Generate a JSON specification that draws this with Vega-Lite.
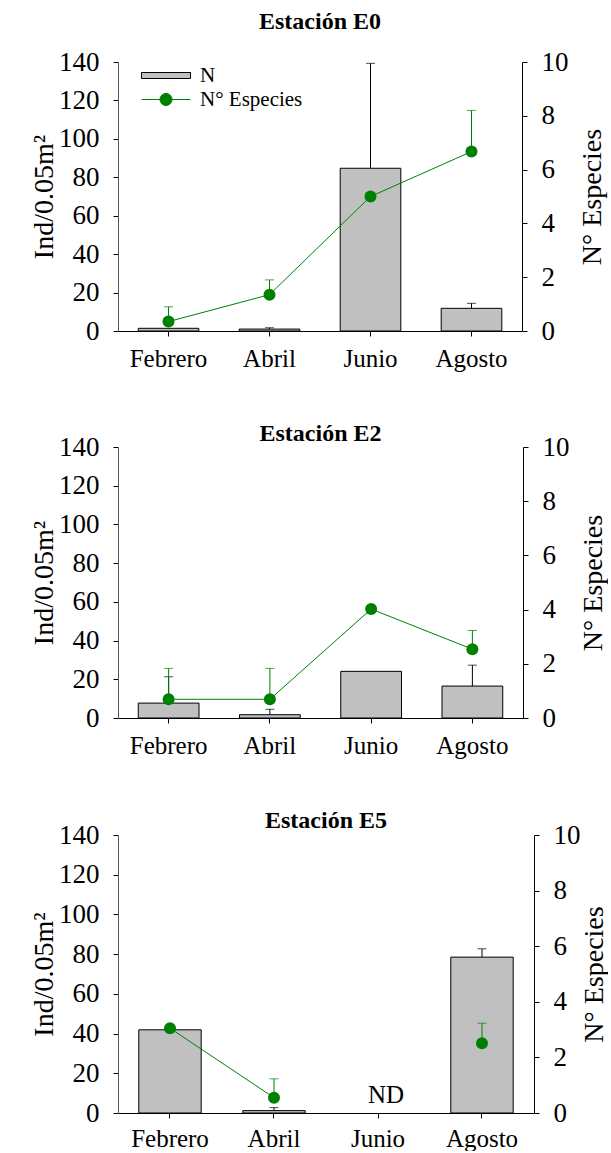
{
  "$schema": "https://vega.github.io/schema/vega-lite/v6.json",
  "background": "white",
  "padding": {"left": 30, "right": 0, "top": 10, "bottom": 0},
  "config": {
    "view": {"stroke": null},
    "font": "Liberation Serif",
    "axis": {"labelFont": "Liberation Serif", "labelFontSize": 27, "labelColor": "black", "labelOverlap": false, "titleFont": "Liberation Serif", "titleFontSize": 28, "titleFontWeight": "normal", "titleColor": "black", "domainColor": "black", "tickColor": "black", "tickSize": 5, "grid": false, "labelPadding": 12},
    "title": {"font": "Liberation Serif", "fontSize": 24, "fontWeight": "bold", "color": "black", "anchor": "middle", "frame": "group"},
    "legend": {"title": null, "orient": "none", "padding": 0, "symbolSize": 144, "symbolOpacity": 1, "labelFont": "Liberation Serif", "labelFontSize": 21, "labelColor": "black", "labelOffset": 23.5, "symbolStrokeWidth": 1}
  },
  "datasets": {
    "e0": [
      {"mes": "Febrero", "N": 1.4, "N_up": null, "S": 0.35, "S_up": 0.9, "nota": null},
      {"mes": "Abril", "N": 1.0, "N_up": 1.7, "S": 1.35, "S_up": 1.9, "nota": null},
      {"mes": "Junio", "N": 84.7, "N_up": 139.3, "S": 5.0, "S_up": null, "nota": null},
      {"mes": "Agosto", "N": 11.8, "N_up": 14.4, "S": 6.67, "S_up": 8.2, "nota": null}
    ],
    "e2": [
      {"mes": "Febrero", "N": 7.7, "N_up": 21.3, "S": 0.69, "S_up": 1.83, "nota": null},
      {"mes": "Abril", "N": 1.7, "N_up": 4.5, "S": 0.69, "S_up": 1.83, "nota": null},
      {"mes": "Junio", "N": 24.1, "N_up": null, "S": 4.02, "S_up": null, "nota": null},
      {"mes": "Agosto", "N": 16.5, "N_up": 27.3, "S": 2.54, "S_up": 3.23, "nota": null}
    ],
    "e5": [
      {"mes": "Febrero", "N": 41.9, "N_up": null, "S": 3.05, "S_up": null, "nota": null},
      {"mes": "Abril", "N": 1.2, "N_up": 2.7, "S": 0.55, "S_up": 1.23, "nota": null},
      {"mes": "Junio", "N": null, "N_up": null, "S": null, "S_up": null, "nota": "ND"},
      {"mes": "Agosto", "N": 78.5, "N_up": 82.7, "S": 2.51, "S_up": 3.23, "nota": null}
    ]
  },
  "spacing": 51,
  "vconcat": [
    {
      "title": {"text": "Estación E0", "offset": 14},
      "width": 404, "height": 269,
      "data": {"name": "e0"},
      "encoding": {"x": {"field": "mes", "type": "nominal", "sort": ["Febrero", "Abril", "Junio", "Agosto"], "scale": {"paddingInner": 0.4, "paddingOuter": 0.2}, "axis": {"title": null, "labelAngle": 0, "labelPadding": 10, "labelFontSize": 25}}},
      "layer": [
        {
          "layer": [
            {"mark": {"type": "bar", "stroke": "black", "strokeWidth": 1},
             "encoding": {
               "y": {"field": "N", "type": "quantitative", "scale": {"domain": [0, 140], "nice": false}, "axis": {"title": "Ind/0.05m²", "values": [0, 20, 40, 60, 80, 100, 120, 140], "labelOverlap": false, "labelPadding": 14, "titlePadding": 0, "domainColor": "#555"}},
               "fill": {"datum": "N", "type": "nominal", "scale": {"domain": ["N"], "range": ["#c0c0c0"]},
                 "legend": {"legendX": 37.5, "legendY": 3, "symbolType": "M-4.08,-0.5L4.08,-0.5L4.08,0.5L-4.08,0.5Z", "symbolStrokeColor": "black"}}
             }},
            {"transform": [{"filter": "datum.N_up != null"}],
             "mark": {"type": "rule", "color": "black", "strokeWidth": 1},
             "encoding": {"y": {"field": "N", "type": "quantitative", "axis": {"title": "Ind/0.05m²", "values": [0, 20, 40, 60, 80, 100, 120, 140], "labelOverlap": false, "labelPadding": 14, "titlePadding": 0, "domainColor": "#555"}}, "y2": {"field": "N_up"}}},
            {"transform": [{"filter": "datum.N_up != null"}],
             "mark": {"type": "tick", "color": "black", "size": 9, "thickness": 1, "orient": "horizontal"},
             "encoding": {"y": {"field": "N_up", "type": "quantitative", "axis": {"title": "Ind/0.05m²", "values": [0, 20, 40, 60, 80, 100, 120, 140], "labelOverlap": false, "labelPadding": 14, "titlePadding": 0, "domainColor": "#555"}}}}
          ]
        },
        {
          "layer": [
            {"mark": {"type": "line", "color": "#008000", "strokeWidth": 1},
             "encoding": {"y": {"field": "S", "type": "quantitative", "scale": {"domain": [0, 10], "nice": false}, "axis": {"orient": "right", "title": "N° Especies", "titleAngle": 270, "titleBaseline": "top", "values": [0, 2, 4, 6, 8, 10], "labelOverlap": false, "labelPadding": 14, "titlePadding": 10}}}},
            {"transform": [{"filter": "datum.S_up != null"}],
             "mark": {"type": "rule", "color": "#008000", "strokeWidth": 1},
             "encoding": {"y": {"field": "S", "type": "quantitative"}, "y2": {"field": "S_up"}}},
            {"transform": [{"filter": "datum.S_up != null"}],
             "mark": {"type": "tick", "color": "#008000", "size": 9, "thickness": 1, "orient": "horizontal"},
             "encoding": {"y": {"field": "S_up", "type": "quantitative"}}},
            {"mark": {"type": "circle", "size": 144, "opacity": 1},
             "encoding": {"y": {"field": "S", "type": "quantitative"},
               "fill": {"datum": "N° Especies", "type": "nominal", "scale": {"domain": ["N° Especies"], "range": ["#008000"]},
                 "legend": {"legendX": 37.5, "legendY": 27, "symbolType": "M-4.08,0L4.08,0M-1,0A1,1 0 1,1 1,0A1,1 0 1,1 -1,0Z", "symbolStrokeColor": "#008000"}}}}
          ]
        }
      ],
      "resolve": {"scale": {"y": "independent", "fill": "independent"}}
    },
    {
      "title": {"text": "Estación E2", "offset": -13},
      "width": 405, "height": 271,
      "data": {"name": "e2"},
      "encoding": {"x": {"field": "mes", "type": "nominal", "sort": ["Febrero", "Abril", "Junio", "Agosto"], "scale": {"paddingInner": 0.4, "paddingOuter": 0.2}, "axis": {"title": null, "labelAngle": 0, "labelPadding": 10, "labelFontSize": 25}}},
      "layer": [
        {
          "layer": [
            {"mark": {"type": "bar", "stroke": "black", "strokeWidth": 1, "fill": "#c0c0c0"},
             "encoding": {
               "y": {"field": "N", "type": "quantitative", "scale": {"domain": [0, 140], "nice": false}, "axis": {"title": "Ind/0.05m²", "values": [0, 20, 40, 60, 80, 100, 120, 140], "labelOverlap": false, "labelPadding": 14, "titlePadding": 0, "domainColor": "#555"}}
             }},
            {"transform": [{"filter": "datum.N_up != null"}],
             "mark": {"type": "rule", "color": "black", "strokeWidth": 1},
             "encoding": {"y": {"field": "N", "type": "quantitative", "axis": {"title": "Ind/0.05m²", "values": [0, 20, 40, 60, 80, 100, 120, 140], "labelOverlap": false, "labelPadding": 14, "titlePadding": 0, "domainColor": "#555"}}, "y2": {"field": "N_up"}}},
            {"transform": [{"filter": "datum.N_up != null"}],
             "mark": {"type": "tick", "color": "black", "size": 9, "thickness": 1, "orient": "horizontal"},
             "encoding": {"y": {"field": "N_up", "type": "quantitative", "axis": {"title": "Ind/0.05m²", "values": [0, 20, 40, 60, 80, 100, 120, 140], "labelOverlap": false, "labelPadding": 14, "titlePadding": 0, "domainColor": "#555"}}}}
          ]
        },
        {
          "layer": [
            {"mark": {"type": "line", "color": "#008000", "strokeWidth": 1},
             "encoding": {"y": {"field": "S", "type": "quantitative", "scale": {"domain": [0, 10], "nice": false}, "axis": {"orient": "right", "title": "N° Especies", "titleAngle": 270, "titleBaseline": "top", "values": [0, 2, 4, 6, 8, 10], "labelOverlap": false, "labelPadding": 14, "titlePadding": 10}}}},
            {"transform": [{"filter": "datum.S_up != null"}],
             "mark": {"type": "rule", "color": "#008000", "strokeWidth": 1},
             "encoding": {"y": {"field": "S", "type": "quantitative"}, "y2": {"field": "S_up"}}},
            {"transform": [{"filter": "datum.S_up != null"}],
             "mark": {"type": "tick", "color": "#008000", "size": 9, "thickness": 1, "orient": "horizontal"},
             "encoding": {"y": {"field": "S_up", "type": "quantitative"}}},
            {"mark": {"type": "circle", "size": 144, "opacity": 1, "color": "#008000"},
             "encoding": {"y": {"field": "S", "type": "quantitative"}}}
          ]
        }
      ],
      "resolve": {"scale": {"y": "independent"}}
    },
    {
      "title": {"text": "Estación E5", "offset": -12},
      "width": 416, "height": 278,
      "data": {"name": "e5"},
      "encoding": {"x": {"field": "mes", "type": "nominal", "sort": ["Febrero", "Abril", "Junio", "Agosto"], "scale": {"paddingInner": 0.4, "paddingOuter": 0.2}, "axis": {"title": null, "labelAngle": 0, "labelPadding": 8, "labelFontSize": 25}}},
      "layer": [
        {
          "layer": [
            {"mark": {"type": "bar", "stroke": "black", "strokeWidth": 1, "fill": "#c0c0c0"},
             "encoding": {
               "y": {"field": "N", "type": "quantitative", "scale": {"domain": [0, 140], "nice": false}, "axis": {"title": "Ind/0.05m²", "values": [0, 20, 40, 60, 80, 100, 120, 140], "labelOverlap": false, "labelPadding": 14, "titlePadding": 0, "domainColor": "#555"}}
             }},
            {"transform": [{"filter": "datum.N_up != null"}],
             "mark": {"type": "rule", "color": "black", "strokeWidth": 1},
             "encoding": {"y": {"field": "N", "type": "quantitative", "axis": {"title": "Ind/0.05m²", "values": [0, 20, 40, 60, 80, 100, 120, 140], "labelOverlap": false, "labelPadding": 14, "titlePadding": 0, "domainColor": "#555"}}, "y2": {"field": "N_up"}}},
            {"transform": [{"filter": "datum.N_up != null"}],
             "mark": {"type": "tick", "color": "black", "size": 9, "thickness": 1, "orient": "horizontal"},
             "encoding": {"y": {"field": "N_up", "type": "quantitative", "axis": {"title": "Ind/0.05m²", "values": [0, 20, 40, 60, 80, 100, 120, 140], "labelOverlap": false, "labelPadding": 14, "titlePadding": 0, "domainColor": "#555"}}}},
            {"transform": [{"filter": "datum.nota != null"}],
             "mark": {"type": "text", "font": "Liberation Serif", "fontSize": 25, "color": "black", "baseline": "middle", "dx": 8, "dy": -18},
             "encoding": {"y": {"datum": 0, "type": "quantitative", "axis": {"title": "Ind/0.05m²", "values": [0, 20, 40, 60, 80, 100, 120, 140], "labelOverlap": false, "labelPadding": 14, "titlePadding": 0, "domainColor": "#555"}}, "text": {"field": "nota"}}}
          ]
        },
        {
          "layer": [
            {"mark": {"type": "line", "color": "#008000", "strokeWidth": 1},
             "encoding": {"y": {"field": "S", "type": "quantitative", "scale": {"domain": [0, 10], "nice": false}, "axis": {"orient": "right", "title": "N° Especies", "titleAngle": 270, "titleBaseline": "top", "values": [0, 2, 4, 6, 8, 10], "labelOverlap": false, "labelPadding": 14, "titlePadding": 0}}}},
            {"transform": [{"filter": "datum.S_up != null"}],
             "mark": {"type": "rule", "color": "#008000", "strokeWidth": 1},
             "encoding": {"y": {"field": "S", "type": "quantitative"}, "y2": {"field": "S_up"}}},
            {"transform": [{"filter": "datum.S_up != null"}],
             "mark": {"type": "tick", "color": "#008000", "size": 9, "thickness": 1, "orient": "horizontal"},
             "encoding": {"y": {"field": "S_up", "type": "quantitative"}}},
            {"mark": {"type": "circle", "size": 144, "opacity": 1, "color": "#008000"},
             "encoding": {"y": {"field": "S", "type": "quantitative"}}}
          ]
        }
      ],
      "resolve": {"scale": {"y": "independent"}}
    }
  ]
}
